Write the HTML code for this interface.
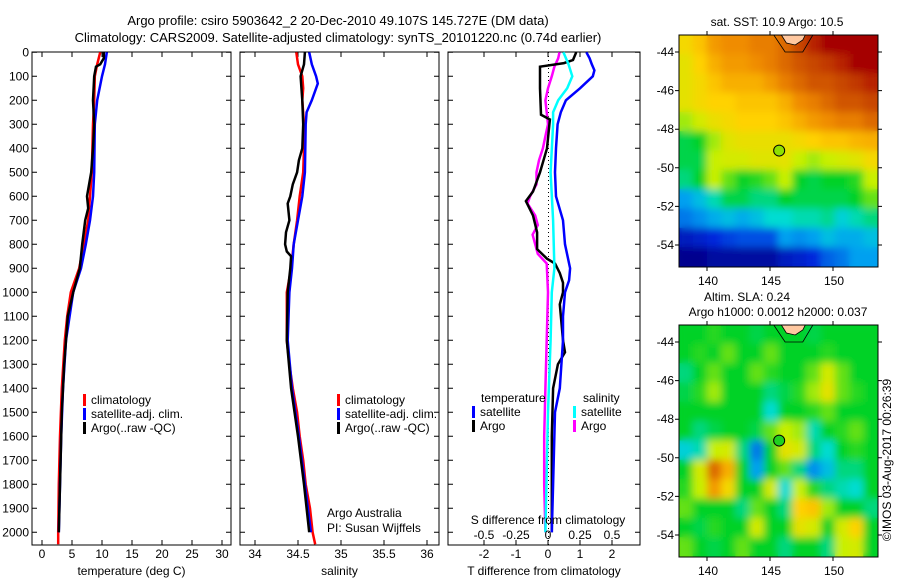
<!DOCTYPE html>
<html><head><meta charset="utf-8"><style>
body{margin:0;background:#fff}
svg{display:block;font-family:"Liberation Sans",sans-serif;font-size:12px}
</style></head><body>
<svg id="c" width="900" height="580" viewBox="0 0 900 580">
<text x="338" y="25" text-anchor="middle" font-size="13">Argo profile: csiro 5903642_2 20-Dec-2010 49.107S 145.727E (DM data)</text>
<text x="338" y="42" text-anchor="middle" font-size="13">Climatology: CARS2009. Satellite-adjusted climatology: synTS_20101220.nc (0.74d earlier)</text>
<g id="p1"></g>
<g id="p2"></g>
<g id="p3"></g>
<g id="m1"></g>
<g id="m2"></g>
<text x="777" y="26" text-anchor="middle">sat. SST: 10.9 Argo: 10.5</text>
<text x="747" y="301" text-anchor="middle">Altim. SLA: 0.24</text>
<text x="778" y="316" text-anchor="middle">Argo h1000: 0.0012 h2000: 0.037</text>
<text transform="translate(891,460) rotate(-90)" text-anchor="middle">©IMOS 03-Aug-2017 00:26:39</text>
</svg>
<script>
// ---------- data ----------
const depthTicks=[0,100,200,300,400,500,600,700,800,900,1000,1100,1200,1300,1400,1500,1600,1700,1800,1900,2000];
const tempTicks=[0,5,10,15,20,25,30];
const salTicks=[34,34.5,35,35.5,36];
const tdiffTicks=[-2,-1,0,1,2];
const sdiffTicks=[-0.5,-0.25,0,0.25,0.5];
const sdiffLabels=["-0.5","-0.25","0","0.25","0.5"];

const climTDepth=[0,50,100,200,300,500,700,900,1000,1100,1200,1400,1600,1800,2000,2050];
const climT=[9.7,9.2,8.8,8.7,8.5,8.3,7.7,6.2,4.8,4.2,3.8,3.3,3.0,2.8,2.7,2.7];
const satTDepth=[0,50,100,200,300,500,600,700,800,900,1000,1200,1400,1600,1800,2000];
const satT=[10.8,10.5,10.0,9.2,8.8,8.7,8.5,8.0,7.3,6.5,5.2,4.0,3.5,3.2,3.0,2.8];
const argoTDepth=[0,25,50,60,100,200,300,400,500,600,650,700,800,900,1000,1100,1200,1300,1400,1500,1600,1800,2000];
const argoT=[10.3,10.3,9.7,9.0,8.7,8.5,8.7,8.5,8.2,7.5,7.7,7.2,6.7,6.3,5.2,4.3,4.0,3.7,3.5,3.3,3.2,3.0,2.8];

const climSDepth=[0,50,100,150,200,300,400,500,600,700,800,900,1000,1100,1200,1300,1400,1500,1600,1700,1800,1900,2000,2050];
const climS=[34.48,34.50,34.55,34.56,34.55,34.57,34.57,34.56,34.52,34.49,34.45,34.42,34.37,34.37,34.37,34.40,34.44,34.49,34.52,34.56,34.59,34.64,34.67,34.70];
const satSDepth=[0,50,100,130,200,250,300,500,600,700,800,900,1000,1200,1400,1600,1800,2000];
const satS=[34.63,34.66,34.71,34.73,34.66,34.60,34.59,34.58,34.55,34.50,34.45,34.43,34.40,34.38,34.43,34.51,34.58,34.65];
const argoSDepth=[0,50,100,200,300,400,450,500,550,600,630,700,750,800,830,850,900,1000,1200,1400,1600,1800,2000];
const argoS=[34.58,34.57,34.53,34.55,34.56,34.55,34.51,34.49,34.44,34.41,34.38,34.40,34.36,34.35,34.37,34.42,34.41,34.38,34.37,34.42,34.50,34.57,34.63];

const dTsatDepth=[0,25,50,75,100,150,200,250,300,400,500,600,700,800,900,950,1000,1100,1200,1400,1500,1800,2000];
const dTsat=[1.2,1.3,1.37,1.45,1.4,1.0,0.56,0.4,0.3,0.25,0.22,0.25,0.47,0.53,0.69,0.66,0.53,0.47,0.47,0.37,0.22,0.16,0.12];
const dTargoDepth=[0,32,45,60,150,260,280,400,500,580,620,680,750,820,860,880,920,960,1000,1050,1200,1250,1300,1400,1600,1800,2000];
const dTargo=[0.88,0.78,0.5,-0.25,-0.25,-0.22,0.06,-0.03,-0.25,-0.47,-0.69,-0.47,-0.34,-0.34,-0.03,0.22,0.37,0.47,0.47,0.37,0.47,0.53,0.31,0.16,0.12,0.12,0.12];
const dSsatDepth=[0,50,100,150,200,250,300,500,700,900,1000,1200,1500,2000];
const dSsat=[0.12,0.16,0.19,0.15,0.08,0.04,0.04,0.02,0.04,0.05,0.03,0.02,0.0,-0.02];
const dSargoDepth=[0,25,60,100,150,200,250,300,350,400,450,500,550,600,630,680,720,760,800,840,880,1000,1200,1400,1600,1800,2000];
const dSargo=[0.09,0.08,0.05,0.03,0.0,-0.02,-0.01,0.0,-0.02,-0.04,-0.07,-0.09,-0.09,-0.14,-0.16,-0.10,-0.08,-0.12,-0.10,-0.08,-0.01,0.0,-0.01,-0.02,-0.03,-0.03,-0.02];

const sstGrid=[
[0.68,0.72,0.78,0.8,0.8,0.82,0.82,0.85,0.9,0.95,1,1,1,1],
[0.65,0.7,0.75,0.78,0.78,0.8,0.82,0.85,0.88,0.9,0.92,0.95,1,1],
[0.65,0.68,0.72,0.75,0.75,0.75,0.78,0.82,0.85,0.88,0.88,0.9,0.92,0.95],
[0.65,0.68,0.7,0.7,0.72,0.72,0.72,0.75,0.8,0.82,0.85,0.88,0.88,0.9],
[0.58,0.62,0.66,0.68,0.7,0.7,0.7,0.72,0.75,0.78,0.8,0.82,0.82,0.85],
[0.48,0.5,0.58,0.64,0.66,0.66,0.66,0.66,0.68,0.7,0.72,0.72,0.74,0.75],
[0.48,0.48,0.6,0.62,0.62,0.64,0.64,0.65,0.6,0.58,0.6,0.62,0.64,0.68],
[0.45,0.5,0.6,0.55,0.5,0.52,0.55,0.6,0.5,0.48,0.5,0.5,0.52,0.6],
[0.3,0.35,0.42,0.48,0.48,0.45,0.45,0.5,0.48,0.48,0.48,0.48,0.5,0.55],
[0.25,0.28,0.32,0.35,0.32,0.35,0.4,0.4,0.42,0.42,0.44,0.38,0.42,0.45],
[0.1,0.12,0.15,0.18,0.2,0.2,0.2,0.3,0.28,0.3,0.35,0.32,0.32,0.35],
[0.02,0.02,0.05,0.05,0.05,0.05,0.05,0.1,0.12,0.15,0.22,0.25,0.3,0.3]];
const slaGrid=[
[0.5,0.5,0.52,0.5,0.5,0.48,0.5,0.5,0.5,0.48,0.5,0.5,0.5,0.5],
[0.5,0.52,0.5,0.55,0.5,0.5,0.55,0.5,0.5,0.5,0.52,0.5,0.5,0.5],
[0.45,0.5,0.55,0.5,0.5,0.55,0.52,0.5,0.5,0.55,0.62,0.55,0.5,0.5],
[0.48,0.52,0.58,0.5,0.5,0.5,0.45,0.48,0.52,0.58,0.65,0.55,0.52,0.5],
[0.5,0.5,0.5,0.5,0.5,0.5,0.4,0.5,0.5,0.52,0.55,0.5,0.5,0.5],
[0.5,0.45,0.48,0.5,0.5,0.48,0.55,0.6,0.58,0.42,0.5,0.52,0.55,0.5],
[0.38,0.42,0.6,0.62,0.45,0.25,0.5,0.65,0.62,0.45,0.4,0.5,0.52,0.5],
[0.5,0.62,0.85,0.75,0.5,0.3,0.5,0.55,0.45,0.28,0.35,0.45,0.45,0.5],
[0.52,0.6,0.78,0.68,0.5,0.5,0.62,0.4,0.6,0.52,0.45,0.42,0.4,0.5],
[0.55,0.5,0.5,0.5,0.45,0.55,0.5,0.45,0.7,0.72,0.58,0.5,0.5,0.45],
[0.5,0.48,0.52,0.5,0.5,0.62,0.5,0.5,0.65,0.62,0.5,0.62,0.7,0.5],
[0.55,0.5,0.48,0.5,0.55,0.5,0.5,0.45,0.5,0.5,0.45,0.6,0.62,0.5]];
const latTicks=[-44,-46,-48,-50,-52,-54];
const lonTicks=[140,145,150];
const floatLon=145.727, floatLat=-49.107;

// ---------- helpers ----------
const NS="http://www.w3.org/2000/svg";
function mk(parent,tag,attrs,text){const e=document.createElementNS(NS,tag);for(const k in attrs)e.setAttribute(k,attrs[k]);if(text!==undefined)e.textContent=text;parent.appendChild(e);return e;}
const Y0=52.3, YTOP=52, YBOT=545;
const yD=d=>Y0+d*0.24;

function panel(g,x0,x1,xs,ticks,labels,name,xlabel){
  const f=mk(g,'rect',{x:x0,y:YTOP,width:x1-x0,height:YBOT-YTOP,fill:'none',stroke:'#000','stroke-width':1});
  
  
  depthTicks.forEach(d=>{
    const y=yD(d);
    const t=mk(g,'path',{d:`M${x0},${y}h5M${x1},${y}h-5`,stroke:'#000'});
    
    
  });
  ticks.forEach((v,i)=>{
    const x=xs(v);
    const t=mk(g,'path',{d:`M${x},${YTOP}v5M${x},${YBOT}v-5`,stroke:'#000'});
    
    
    if(labels){
      const l=mk(g,'text',{x:x,y:558,'text-anchor':'middle'},labels[i]);
      
      
    }
  });
  const xl=mk(g,'text',{x:(x0+x1)/2,y:575,'text-anchor':'middle'},xlabel);
  
  
}
function line(g,xs,vals,depths,color,name,w){
  const pts=vals.map((v,i)=>xs(v).toFixed(1)+','+yD(depths[i]).toFixed(1)).join(' ');
  const p=mk(g,'polyline',{points:pts,fill:'none',stroke:color,'stroke-width':w||2.5,'stroke-linejoin':'miter'});
  
  
}
function legend(g,x,y,color,label){
  const b=mk(g,'rect',{x:x,y:y-10,width:3,height:12,fill:color});
  
  
  const t=mk(g,'text',{x:x+8,y:y},label);
  
  
}

// ---------- panel 1 temperature ----------
const p1=document.getElementById('p1');
const xT=v=>42+v*6;
panel(p1,32,231,xT,tempTicks,tempTicks.map(String),'temperature','temperature (deg C)');
depthTicks.forEach(d=>{
  const t=mk(p1,'text',{x:29,y:yD(d)+4,'text-anchor':'end'},String(d));
  
  
});
line(p1,xT,climT,climTDepth,'#f00','climatology-temperature-line');
line(p1,xT,satT,satTDepth,'#00f','satellite-temperature-line');
line(p1,xT,argoT,argoTDepth,'#000','argo-temperature-line');
legend(p1,83,404,'#f00','climatology');
legend(p1,83,418,'#00f','satellite-adj. clim.');
legend(p1,83,432,'#000','Argo(..raw -QC)');

// ---------- panel 2 salinity ----------
const p2=document.getElementById('p2');
const xS=v=>255+(v-34)*86;
panel(p2,240,439,xS,salTicks,salTicks.map(String),'salinity','salinity');
line(p2,xS,climS,climSDepth,'#f00','climatology-salinity-line');
line(p2,xS,satS,satSDepth,'#00f','satellite-salinity-line');
line(p2,xS,argoS,argoSDepth,'#000','argo-salinity-line');
legend(p2,337,404,'#f00','climatology');
legend(p2,337,418,'#00f','satellite-adj. clim.');
legend(p2,337,432,'#000','Argo(..raw -QC)');
const a1=mk(p2,'text',{x:327,y:517},'Argo Australia');


const a2=mk(p2,'text',{x:327,y:532},'PI: Susan Wijffels');



// ---------- panel 3 differences ----------
const p3=document.getElementById('p3');
const xdT=v=>548+v*32;
const xdS=v=>548+v*128;
panel(p3,448,640,xdT,tdiffTicks,tdiffTicks.map(String),'difference','T difference from climatology');
const zl=mk(p3,'line',{x1:548.5,y1:YTOP,x2:548.5,y2:YBOT,stroke:'#000','stroke-dasharray':'1,3'});


line(p3,xdS,dSargo,dSargoDepth,'#f0f','argo-salinity-diff-line');
line(p3,xdT,dTargo,dTargoDepth,'#000','argo-temperature-diff-line');
line(p3,xdS,dSsat,dSsatDepth,'#0ff','satellite-salinity-diff-line');
line(p3,xdT,dTsat,dTsatDepth,'#00f','satellite-temperature-diff-line');
sdiffTicks.forEach((v,i)=>{
  const l=mk(p3,'text',{x:xdS(v),y:539,'text-anchor':'middle'},sdiffLabels[i]);
  
  
});
const st=mk(p3,'text',{x:548,y:524,'text-anchor':'middle'},'S difference from climatology');


const lt=mk(p3,'text',{x:481,y:402},'temperature');


const ls=mk(p3,'text',{x:583,y:402},'salinity');


legend(p3,472,416,'#00f','satellite');
legend(p3,472,430,'#000','Argo');
legend(p3,573,416,'#0ff','satellite');
legend(p3,573,430,'#f0f','Argo');

// ---------- maps ----------
function cmap(v){
  const stops=[[0,[0,0,130]],[0.15,[0,40,220]],[0.3,[0,160,240]],[0.4,[0,220,210]],[0.5,[0,210,40]],[0.6,[200,240,0]],[0.7,[255,210,0]],[0.8,[240,140,0]],[0.9,[200,70,0]],[1,[165,0,0]]];
  v=Math.max(0,Math.min(1,v));
  for(let i=1;i<stops.length;i++){if(v<=stops[i][0]){const a=stops[i-1],b=stops[i];const t=(v-a[0])/(b[0]-a[0]);return 'rgb('+a[1].map((c,k)=>Math.round(c+(b[1][k]-c)*t)).join(',')+')';}}
  return 'rgb(165,0,0)';
}
function map(id,grid,top,bot,lat44,lat54,fid,lonLabelY){
  const g=document.getElementById(id);
  const L=679,R=878;
  const lonX=lon=>707+(lon-140)*12.6;
  const latY=lat=>lat44+(lat+44)*(lat54-lat44)/(-10);
  const lon0=140+(L-707)/12.6, lon1=140+(R-707)/12.6;
  const lat0=-44-(top-lat44)*10/(lat54-lat44), latB=-44-(bot-lat44)*10/(lat54-lat44);
  const nr=grid.length,nc=grid[0].length;
  const defs=mk(g,'defs',{});
  const flt=mk(defs,'filter',{id:fid,x:'-5%',y:'-5%',width:'110%',height:'110%'});
  mk(flt,'feGaussianBlur',{stdDeviation:4});
  const cp=mk(defs,'clipPath',{id:fid+'c'});
  mk(cp,'rect',{x:L,y:top,width:R-L,height:bot-top});
  const cg=mk(g,'g',{'clip-path':`url(#${fid}c)`});
  const layers=[mk(cg,'g',{}),mk(cg,'g',{filter:`url(#${fid})`})];
  layers.forEach(layer=>{
    for(let r=0;r<nr;r++)for(let c=0;c<nc;c++){
      const la0=lat0+(latB-lat0)*r/nr, la1=lat0+(latB-lat0)*(r+1)/nr;
      const lo0=lon0+(lon1-lon0)*c/nc, lo1=lon0+(lon1-lon0)*(c+1)/nc;
      const cell=mk(layer,'rect',{x:lonX(lo0)-0.5,y:latY(la0)-0.5,width:lonX(lo1)-lonX(lo0)+1,height:latY(la1)-latY(la0)+1,fill:cmap(grid[r][c])});
      
      
    }
  });
  const land=mk(cg,'path',{d:`M${lonX(145.9)},${top} L${lonX(146.3)},${top+8} L${lonX(147)},${top+10} L${lonX(147.6)},${top+5} L${lonX(147.8)},${top} Z`,fill:'#ffc8a0',stroke:'#000','stroke-width':0.8});
  
  
  const cont=mk(cg,'path',{d:`M${lonX(145.3)},${top} L${lonX(146.2)},${top+17} L${lonX(147.6)},${top+17} L${lonX(148.4)},${top}`,fill:'none',stroke:'#000','stroke-width':0.8});
  
  
  const fr=mk(g,'rect',{x:L,y:top,width:R-L,height:bot-top,fill:'none',stroke:'#000'});
  
  
  latTicks.forEach(la=>{
    const y=latY(la);
    const t=mk(g,'path',{d:`M${L},${y}h-4M${R},${y}h4`,stroke:'#000'});
    
    
    const l=mk(g,'text',{x:674,y:y+4,'text-anchor':'end'},String(la));
    
    
  });
  lonTicks.forEach(lo=>{
    const x=lonX(lo);
    const t=mk(g,'path',{d:`M${x},${top}v-4M${x},${bot}v4`,stroke:'#000'});
    
    
    const l=mk(g,'text',{x:x+1,y:lonLabelY,'text-anchor':'middle'},String(lo));
    
    
  });
  const mkr=mk(g,'circle',{cx:lonX(floatLon),cy:latY(floatLat),r:5.5,fill:id==='m1'?'#8ee000':'#20d020',stroke:'#000','stroke-width':1});
  
  
}
map('m1',sstGrid,35,267,52,245,'f1',285);
map('m2',slaGrid,325,557,342,535,'f2',575);
</script>
</body></html>
